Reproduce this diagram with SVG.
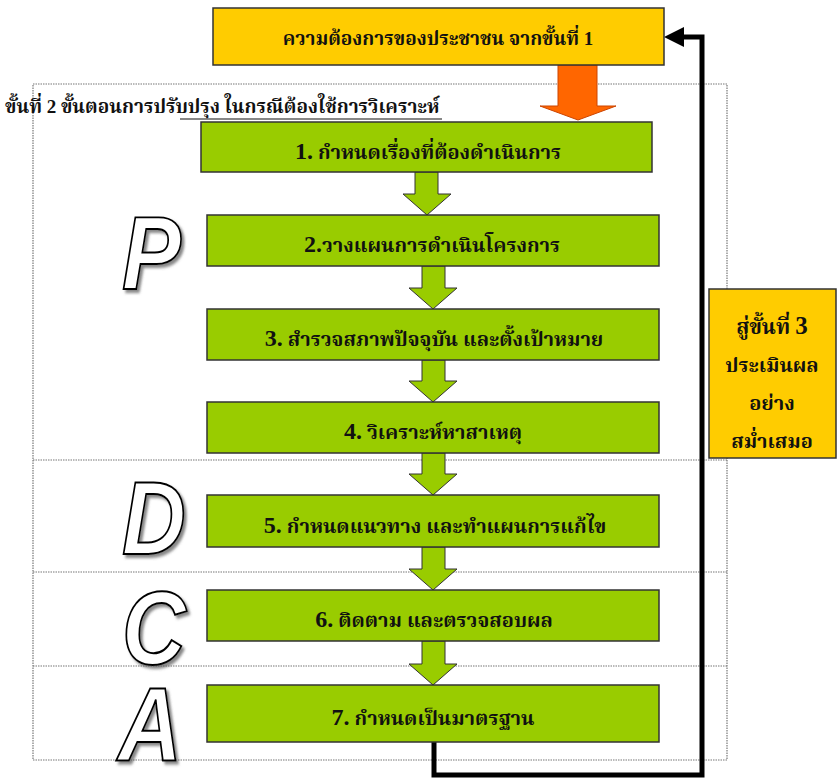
<svg xmlns="http://www.w3.org/2000/svg" width="839" height="781" viewBox="0 0 839 781">
<defs>
<filter id="sh" x="-20%" y="-20%" width="150%" height="150%">
<feDropShadow dx="3" dy="3" stdDeviation="1.5" flood-color="#555" flood-opacity="0.7"/>
</filter>
</defs>
<style>
.step{fill:#99CC00;stroke:#333;stroke-width:1.5}
.yel{fill:#FFCC00;stroke:#333;stroke-width:1.5}
.garr{fill:#99CC00;stroke:#333;stroke-width:1}
.t{font-family:"Liberation Serif","Noto Serif Thai","Noto Sans Thai",serif;font-weight:bold;fill:#111;text-anchor:middle}
.big{font-family:"Liberation Sans",Arial,sans-serif;font-weight:bold;font-style:italic;font-size:104px;fill:#fff;stroke:#000;stroke-width:2;filter:url(#sh)}
.dot{fill:none;stroke:#777;stroke-width:1.2;stroke-dasharray:1.5 1}
</style>
<g id="frame">
<path class="dot" d="M727 289 V84 H33 V760 H727 V458"/>
<line class="dot" x1="33" y1="460" x2="727" y2="460"/>
<line class="dot" x1="33" y1="572" x2="727" y2="572"/>
<line class="dot" x1="33" y1="666" x2="727" y2="666"/>
</g>
<g id="header">
<text x="5" y="113" style="font-family:'Liberation Serif','Noto Serif Thai','Noto Sans Thai',serif;font-weight:bold;font-size:19px;fill:#111">ขั้นที่ 2 ขั้นตอนการปรับปรุง ในกรณีต้องใช้การวิเคราะห์</text>
<line x1="180" y1="119" x2="442" y2="119" stroke="#111" stroke-width="1.2"/>
</g>
<g id="letters">
<g transform="translate(122,289) scale(0.85,1)"><text class="big" x="0" y="0">P</text></g>
<g transform="translate(122,554) scale(0.85,1)"><text class="big" x="0" y="0">D</text></g>
<g transform="translate(122,664) scale(0.85,1)"><text class="big" x="0" y="0">C</text></g>
<g transform="translate(118,760) scale(0.85,1)"><text class="big" x="0" y="0">A</text></g>
</g>
<g id="connectors">
<polygon points="558,65 597,65 597,106 616,106 578,120 540,106 558,106" fill="#FF6600" stroke="#CC4400" stroke-width="1"/>
<polygon class="garr" points="415,172 438,172 438,194 451,194 427,215 403,194 415,194"/>
<polygon class="garr" points="422,266 445,266 445,288 457,288 433,309 409,288 422,288"/>
<polygon class="garr" points="422,360 445,360 445,381 457,381 433,402 409,381 422,381"/>
<polygon class="garr" points="422,453 445,453 445,474 457,474 433,495 409,474 422,474"/>
<polygon class="garr" points="422,547 445,547 445,569 457,569 433,590 409,569 422,569"/>
<polygon class="garr" points="422,641 445,641 445,664 457,664 433,685 409,664 422,664"/>
<path d="M434 742 V775 H702 V37 H682" fill="none" stroke="#000" stroke-width="5"/>
<polygon points="664,37 684,27 684,47" fill="#000"/>
</g>
<g id="n0"><rect class="yel" x="213" y="8" width="451" height="57"/><text class="t" x="438" y="45" font-size="19">ความต้องการของประชาชน จากขั้นที่ 1</text></g>
<g id="n1"><rect class="step" x="201" y="122" width="451" height="50"/><text class="t" x="428" y="159" font-size="20"><tspan font-size="24">1.</tspan> กำหนดเรื่องที่ต้องดำเนินการ</text></g>
<g id="n2"><rect class="step" x="207" y="215" width="452" height="51"/><text class="t" x="432" y="252" font-size="20"><tspan font-size="24">2.</tspan>วางแผนการดำเนินโครงการ</text></g>
<g id="n3"><rect class="step" x="207" y="309" width="452" height="51"/><text class="t" x="434" y="346" font-size="20"><tspan font-size="24">3.</tspan> สำรวจสภาพปัจจุบัน และตั้งเป้าหมาย</text></g>
<g id="n4"><rect class="step" x="207" y="402" width="452" height="51"/><text class="t" x="433" y="439" font-size="20"><tspan font-size="24">4.</tspan> วิเคราะห์หาสาเหตุ</text></g>
<g id="n5"><rect class="step" x="207" y="495" width="452" height="52"/><text class="t" x="435" y="533" font-size="20"><tspan font-size="24">5.</tspan> กำหนดแนวทาง และทำแผนการแก้ไข</text></g>
<g id="n6"><rect class="step" x="207" y="590" width="452" height="51"/><text class="t" x="434" y="627" font-size="20"><tspan font-size="24">6.</tspan> ติดตาม และตรวจสอบผล</text></g>
<g id="n7"><rect class="step" x="207" y="685" width="452" height="57"/><text class="t" x="433" y="725" font-size="20"><tspan font-size="24">7.</tspan> กำหนดเป็นมาตรฐาน</text></g>
<g id="n8"><rect class="yel" x="709" y="289" width="127" height="169"/>
<text class="t" x="772" y="334" font-size="21">สู่ขั้นที่ <tspan font-size="25">3</tspan></text>
<text class="t" x="772" y="372" font-size="20">ประเมินผล</text>
<text class="t" x="772" y="410" font-size="20">อย่าง</text>
<text class="t" x="772" y="448" font-size="20">สม่ำเสมอ</text>
</g>
</svg>
